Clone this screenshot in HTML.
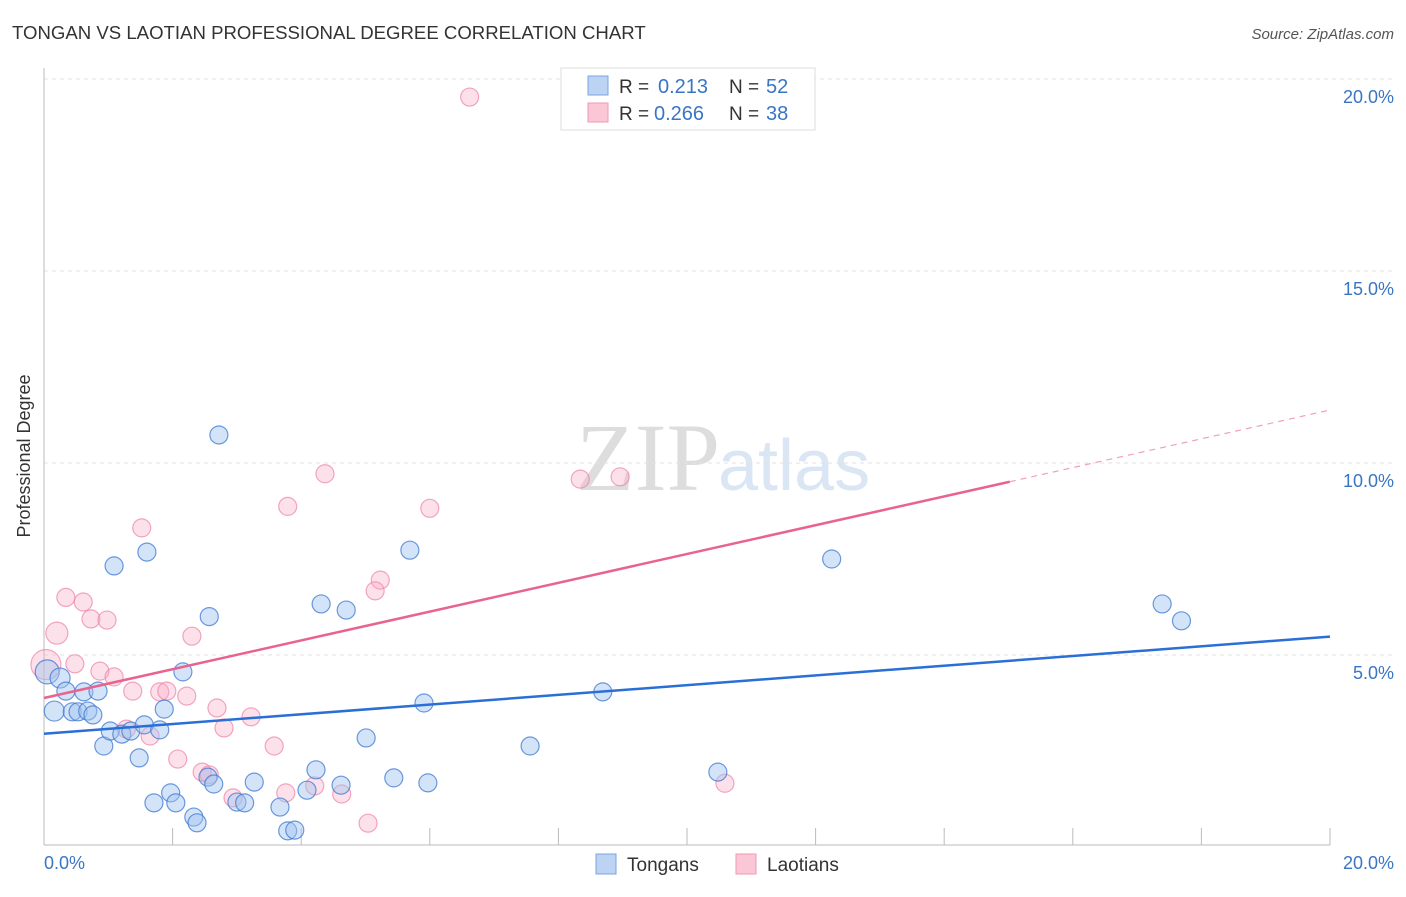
<!DOCTYPE html>
<html><head><meta charset="utf-8"><style>
body{margin:0;background:#fff;font-family:"Liberation Sans",sans-serif}
</style></head><body>
<svg width="1406" height="892">
<text x="12" y="39" font-size="18.6" fill="#333">TONGAN VS LAOTIAN PROFESSIONAL DEGREE CORRELATION CHART</text>
<text x="1394" y="39" font-size="15" fill="#555" font-style="italic" text-anchor="end">Source: ZipAtlas.com</text>
<text x="720" y="490" font-size="96" fill="#ddd" font-family="Liberation Serif" text-anchor="end">ZIP</text>
<text x="718" y="490" font-size="72" fill="#dbe6f5">atlas</text>
<g id="grid"></g>
<line x1="44" y1="68" x2="44" y2="845" stroke="#bbb"/>
<line x1="44" y1="845" x2="1330" y2="845" stroke="#bbb"/>
<text x="30" y="456" font-size="18" fill="#333" text-anchor="middle" transform="rotate(-90 30 456)">Professional Degree</text>
<text x="44" y="869" font-size="18" fill="#3a75c4">0.0%</text>
<text x="1394" y="869" font-size="18" fill="#3a75c4" text-anchor="end">20.0%</text>
<g id="marks"></g>
<g>
<rect x="561" y="68" width="254" height="62" fill="#fff" stroke="#ddd"/>
<rect x="588" y="76" width="20" height="19" fill="#bcd3f3" stroke="#7aa6e0"/>
<rect x="588" y="103" width="20" height="19" fill="#fbc7d6" stroke="#ef9ab4"/>
<text x="619" y="93" font-size="19" fill="#333">R =</text>
<text x="658" y="93" font-size="20" fill="#3a75c4">0.213</text>
<text x="729" y="93" font-size="19" fill="#333">N =</text>
<text x="766" y="93" font-size="20" fill="#3a75c4">52</text>
<text x="619" y="120" font-size="19" fill="#333">R =</text>
<text x="654" y="120" font-size="20" fill="#3a75c4">0.266</text>
<text x="729" y="120" font-size="19" fill="#333">N =</text>
<text x="766" y="120" font-size="20" fill="#3a75c4">38</text>
</g>
<g>
<rect x="596" y="854" width="20" height="20" fill="#bcd3f3" stroke="#7aa6e0"/>
<text x="627" y="871" font-size="19" fill="#333">Tongans</text>
<rect x="736" y="854" width="20" height="20" fill="#fbc7d6" stroke="#ef9ab4"/>
<text x="767" y="871" font-size="19" fill="#333">Laotians</text>
</g>
</svg>
<script>
const yTicks=[5,10,15,20];
const xTicks=[0,2,4,6,8,10,12,14,16,18,20];
const tonganX=[0.05,0.25,0.34,0.62,0.84,0.16,0.44,0.53,0.68,0.76,0.93,1.03,1.21,1.35,1.48,1.56,1.80,1.87,2.16,1.71,1.97,2.05,2.33,2.38,2.55,2.64,3.00,3.12,3.27,3.67,3.79,3.90,4.09,4.23,4.62,5.01,5.44,5.97,5.91,2.57,2.72,1.60,1.09,4.31,4.70,5.69,8.69,7.56,10.48,12.25,17.39,17.69];
const tonganY=[4.56,4.40,4.06,4.04,4.06,3.54,3.52,3.52,3.54,3.44,2.63,3.02,2.94,3.02,2.32,3.18,3.05,3.59,4.56,1.15,1.41,1.15,0.78,0.63,1.82,1.64,1.17,1.15,1.69,1.04,0.42,0.44,1.48,2.01,1.61,2.84,1.80,1.67,3.75,6.00,10.73,7.68,7.32,6.33,6.17,7.73,4.04,2.63,1.95,7.50,6.33,5.89];
const laotianX=[6.62,4.37,3.79,6.00,8.34,8.96,1.52,5.23,5.15,0.34,0.61,0.73,0.98,0.20,0.03,0.48,0.87,1.09,1.38,1.80,1.91,2.22,2.30,2.69,2.80,3.22,3.58,2.08,1.28,1.65,2.46,2.57,2.94,3.76,4.21,4.63,5.04,10.59];
const laotianY=[19.53,9.72,8.87,8.82,9.58,9.64,8.31,6.95,6.67,6.50,6.38,5.94,5.91,5.57,4.75,4.77,4.58,4.43,4.06,4.04,4.06,3.93,5.49,3.62,3.10,3.39,2.63,2.29,3.07,2.89,1.95,1.88,1.28,1.41,1.59,1.38,0.62,1.66];
const tonganSize=[12,10,9,9,9,10,9,9,9,9,9,9,9,9,9,9,9,9,9,9,9,9,9,9,9,9,9,9,9,9,9,9,9,9,9,9,9,9,9,9,9,9,9,9,9,9,9,9,9,9,9,9];
const laotianSize=[9,9,9,9,9,9,9,9,9,9,9,9,9,11,15,9,9,9,9,9,9,9,9,9,9,9,9,9,9,9,9,9,9,9,9,9,9,9];
const tonganLine=[2.95,5.48];
const laotianLine=[3.88,11.38];
const NS='http://www.w3.org/2000/svg';
const sx=v=>44+v/20*1286, sy=v=>847-v*38.4;
const grid=document.getElementById('grid'), marks=document.getElementById('marks');
function mk(tag,at,parent){const e=document.createElementNS(NS,tag);for(const k in at)e.setAttribute(k,at[k]);parent.appendChild(e);return e;}
yTicks.forEach(t=>{
 const l=mk('line',{x1:44,x2:1394,y1:sy(t),y2:sy(t),stroke:'#e2e2e2','stroke-dasharray':'4,4'},grid);
 
 
 const tx=mk('text',{x:1394,y:sy(t)+24,'font-size':18,fill:'#3a75c4','text-anchor':'end'},grid);
 tx.textContent=t.toFixed(1)+'%';
 
 
});
xTicks.forEach(t=>{ if(t>0){
 const l=mk('line',{x1:sx(t),x2:sx(t),y1:828,y2:845,stroke:'#bbb'},grid);
 
 
}});
function pts(X,Y,S,fill,stroke,name){X.forEach((x,i)=>{
 const c=mk('circle',{cx:sx(x),cy:sy(Y[i]),r:S[i],fill:fill,stroke:stroke,'stroke-width':1.2},marks);
 
 
});}
pts(laotianX,laotianY,laotianSize,'rgba(248,170,195,0.35)','rgba(236,130,165,0.7)','laotian-point');
pts(tonganX,tonganY,tonganSize,'rgba(160,195,240,0.45)','rgba(60,120,210,0.75)','tongan-point');
let l=mk('line',{x1:sx(0),y1:sy(tonganLine[0]),x2:sx(20),y2:sy(tonganLine[1]),stroke:'#2a6fd6','stroke-width':2.5},marks);


const fx=15.02, fy=laotianLine[0]+(laotianLine[1]-laotianLine[0])*fx/20;
l=mk('line',{x1:sx(0),y1:sy(laotianLine[0]),x2:sx(fx),y2:sy(fy),stroke:'#e8638e','stroke-width':2.5},marks);


l=mk('line',{x1:sx(fx),y1:sy(fy),x2:sx(20),y2:sy(laotianLine[1]),stroke:'#f0a0b8','stroke-width':1.2,'stroke-dasharray':'6,5'},marks);


</script>
</body></html>
